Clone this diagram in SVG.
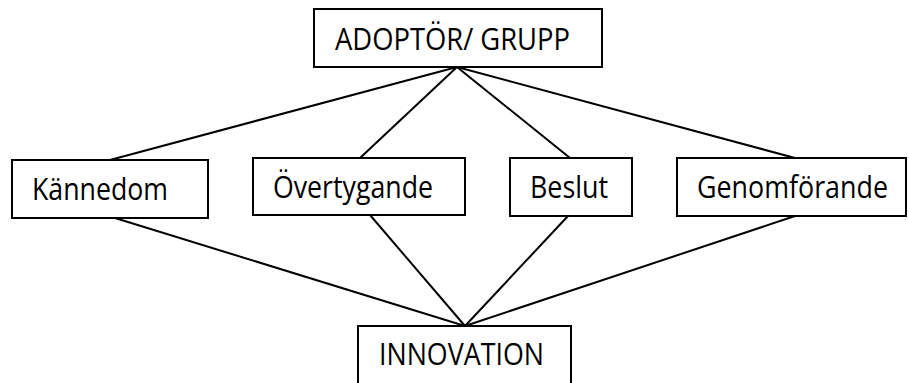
<svg xmlns="http://www.w3.org/2000/svg" width="909" height="383" viewBox="0 0 909 383">
<style>
.box{fill:#fff;stroke:#000;stroke-width:2}
.lbl{font-family:"Open Sans","Liberation Sans",sans-serif;font-size:31px;fill:#000}
.conn line{stroke:#000;stroke-width:2}
</style>
<rect width="909" height="383" fill="#fff"/>
<g id="connectors" class="conn">
<line x1="457" y1="67" x2="110" y2="160"/>
<line x1="457" y1="67" x2="360" y2="158"/>
<line x1="457" y1="67" x2="570" y2="158"/>
<line x1="457" y1="67" x2="795" y2="158"/>
<line x1="115" y1="218" x2="465" y2="326"/>
<line x1="370" y1="215" x2="465" y2="326"/>
<line x1="568" y1="216" x2="465" y2="326"/>
<line x1="795" y1="216" x2="465" y2="326"/>
</g>
<g id="adoptor">
<rect class="box" x="314" y="9" width="288" height="58"/>
<text class="lbl" x="335" y="50" textLength="235" lengthAdjust="spacingAndGlyphs">ADOPTÖR/ GRUPP</text>
</g>
<g id="kannedom">
<rect class="box" x="12" y="160" width="196" height="58"/>
<text class="lbl" x="32" y="200" textLength="136" lengthAdjust="spacingAndGlyphs">Kännedom</text>
</g>
<g id="overtygande">
<rect class="box" x="253" y="158" width="212" height="57"/>
<text class="lbl" x="273" y="198" textLength="160" lengthAdjust="spacingAndGlyphs">Övertygande</text>
</g>
<g id="beslut">
<rect class="box" x="510" y="158" width="122" height="58"/>
<text class="lbl" x="530" y="198" textLength="78" lengthAdjust="spacingAndGlyphs">Beslut</text>
</g>
<g id="genomforande">
<rect class="box" x="677" y="158" width="229" height="58"/>
<text class="lbl" transform="translate(697,198) scale(0.868,1)" x="0" y="0" textLength="220" lengthAdjust="spacingAndGlyphs">Genomförande</text>
</g>
<g id="innovation">
<rect class="box" x="358" y="326" width="213" height="70"/>
<text class="lbl" x="379" y="365" textLength="165" lengthAdjust="spacingAndGlyphs">INNOVATION</text>
</g>
</svg>
